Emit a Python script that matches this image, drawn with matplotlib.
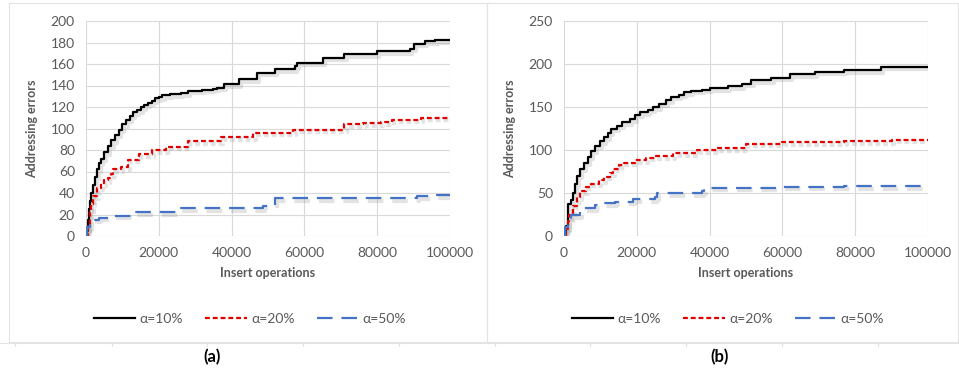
import matplotlib
matplotlib.use('Agg')
import matplotlib.pyplot as plt
import matplotlib.patheffects as pe
from matplotlib.lines import Line2D

# values (insert operations, addressing errors)
a_x10 = [0, 300, 600, 900, 1200, 1500, 2000, 2500, 3000, 3500, 4000, 5000, 6000, 7000, 8000, 9000,
         10000, 11000, 12000, 13000, 14000, 15000, 16000, 17000, 18000, 19000, 20000, 21000, 23000,
         26000, 28000, 32000, 35000, 36000, 38000, 42000, 47000, 52000, 57500, 58000, 65000, 71000,
         80000, 89000, 90000, 93000, 96000, 100000]
a_y10 = [0, 5, 15, 25, 33, 40, 47, 55, 62, 68, 72, 78, 84, 89, 94, 99,
         104, 108, 112, 115, 117, 120, 122, 124, 126, 128, 129, 131, 132,
         133, 135, 136, 137, 138, 141, 146, 152, 155, 158, 161, 166, 169,
         172, 174, 179, 181, 182, 182]
a_x20 = [0, 500, 1000, 1500, 2000, 3000, 4000, 5000, 6000, 7000, 7500, 9500, 11500, 14500, 18000,
         22000, 28000, 37000, 46000, 57000, 71000, 76000, 81000, 84000, 92000, 100000]
a_y20 = [0, 10, 22, 30, 37, 45, 49, 52, 54, 58, 62, 64, 71, 76, 80,
         83, 88, 92, 96, 99, 104, 105, 106, 108, 110, 110]
a_x50 = [0, 300, 1000, 2500, 3500, 6000, 12500, 25000, 48500, 52000, 80000, 91000, 95000, 100000]
a_y50 = [0, 8, 12, 15, 17, 19, 22, 26, 28, 35, 35, 37, 38, 39]

b_x10 = [0, 500, 1000, 1200, 2000, 2500, 3000, 3500, 4500, 5500, 6500, 7500, 8500, 10000, 11000,
         12000, 13000, 14500, 16000, 18000, 19500, 21000, 23000, 24500, 26000, 28000, 29500, 31500,
         33000, 35000, 38000, 40000, 45000, 49000, 51500, 57000, 62000, 69000, 77000, 87000, 100000]
b_y10 = [0, 12, 25, 37, 42, 50, 60, 70, 78, 85, 92, 99, 105, 110, 115,
         120, 125, 128, 132, 136, 141, 144, 147, 150, 154, 158, 162, 164,
         167, 169, 170, 172, 174, 177, 181, 184, 188, 191, 193, 197, 197]
b_x20 = [0, 500, 1000, 1500, 2500, 3500, 4500, 6000, 7500, 9500, 11000, 12500, 13500, 15000, 16500,
         19500, 22500, 25000, 30000, 36500, 42000, 50000, 60000, 77000, 90000, 100000]
b_y20 = [0, 8, 18, 25, 35, 45, 52, 57, 61, 65, 69, 73, 78, 82, 85,
         88, 91, 93, 96, 100, 102, 107, 109, 110, 112, 112]
b_x50 = [0, 300, 1000, 2000, 4500, 8500, 10500, 14000, 19000, 25000, 25500, 38000, 38500, 50000,
         60000, 77000, 100000]
b_y50 = [0, 10, 20, 24, 32, 36, 38, 40, 43, 45, 50, 52, 56, 56, 57, 58, 58]

labels = ['α=10%', 'α=20%', 'α=50%']
xticks = [0, 20000, 40000, 60000, 80000, 100000]

W, H = 959, 375
grey = '#595959'
plt.rcParams['font.family'] = ['Lato', 'DejaVu Sans']

fig = plt.figure(figsize=(W / 100, H / 100), dpi=100)


def px(x0, y0, x1, y1):
    return [x0 / W, 1 - y1 / H, (x1 - x0) / W, (y1 - y0) / H]


shadow = [pe.SimpleLineShadow(offset=(1.5, -1.8), shadow_color='#808080', alpha=0.22, linewidth=3),
          pe.Normal()]
styles = [dict(color='black', lw=1.6, ls='-'),
          dict(color='#e00000', lw=1.6, ls=(0, (2.2, 1.3))),
          dict(color='#4472c4', lw=1.6, ls=(0, (7, 4)))]


def panel(rect, series, ymax, ystep, legend_cx):
    ax = fig.add_axes(rect)
    for (xs, ys), st in zip(series, styles):
        ax.plot(xs, ys, drawstyle='steps-post', path_effects=shadow, **st)
    ax.set_xlim(0, 100000)
    ax.set_ylim(0, ymax)
    ax.set_xticks(xticks)
    ax.set_yticks(range(0, ymax + 1, ystep))
    ax.grid(True, color='#d9d9d9', lw=0.8)
    ax.set_axisbelow(True)
    for s in ax.spines.values():
        s.set_visible(False)
    ax.tick_params(length=0, labelsize=10, colors=grey, pad=8)
    ax.set_xlabel('Insert operations', fontsize=9, fontweight='bold', color=grey, labelpad=6)
    ax.set_ylabel('Addressing errors', fontsize=9, fontweight='bold', color=grey, labelpad=9)
    handles = [Line2D([], [], **st) for st in styles]
    fig.legend(handles, labels, loc='center', bbox_to_anchor=(legend_cx / W, 1 - 319 / H),
               ncol=3, frameon=False, fontsize=10, labelcolor=grey,
               handlelength=3.0, handletextpad=0.3, columnspacing=1.6)
    return ax


panel(px(86, 21, 450, 236), [(a_x10, a_y10), (a_x20, a_y20), (a_x50, a_y50)], 200, 20, 250)
panel(px(564, 21, 928, 236), [(b_x10, b_y10), (b_x20, b_y20), (b_x50, b_y50)], 250, 50, 728)

# chart frames and the table grid underneath
border = '#e3e3e3'
for x0, x1 in [(9, 487), (487, 958)]:
    fig.add_artist(Line2D([x0 / W, x1 / W, x1 / W, x0 / W, x0 / W],
                          [1 - 342 / H, 1 - 342 / H, 1 - 3 / H, 1 - 3 / H, 1 - 342 / H],
                          color=border, lw=0.8))
fig.add_artist(Line2D([0, 1], [1 - 343 / H, 1 - 343 / H], color=border, lw=0.8))
for tx in [15, 112, 207, 303, 399, 495, 590, 686, 782, 878]:
    fig.add_artist(Line2D([tx / W, tx / W], [1 - 343 / H, 1 - 346 / H], color=border, lw=0.8))

fig.text(212 / W, 1 - 357 / H, '(a)', ha='center', va='center', fontsize=12, fontweight='bold')
fig.text(720 / W, 1 - 357 / H, '(b)', ha='center', va='center', fontsize=12, fontweight='bold')

fig.savefig('out.png', dpi=100)
